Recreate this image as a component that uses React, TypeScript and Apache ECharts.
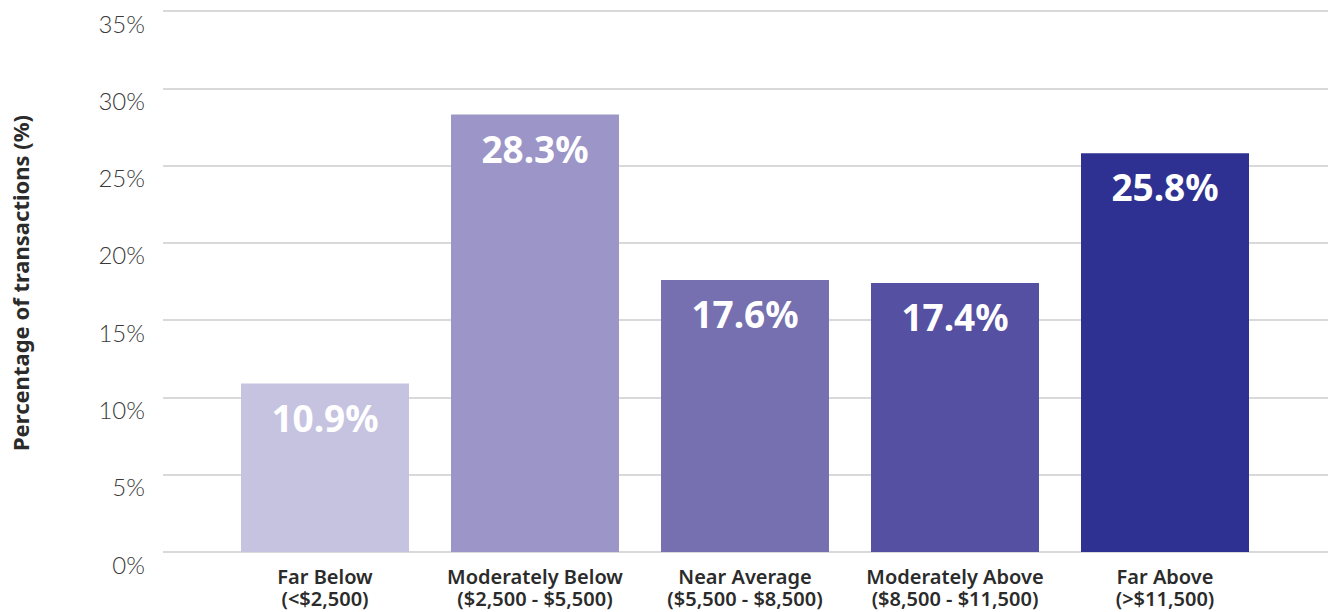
import React, { useEffect, useRef } from "react";
import * as echarts from "echarts";

const categories = [
  "Far Below\n(<$2,500)",
  "Moderately Below\n($2,500 - $5,500)",
  "Near Average\n($5,500 - $8,500)",
  "Moderately Above\n($8,500 - $11,500)",
  "Far Above\n(>$11,500)",
];
const values = [10.9, 28.3, 17.6, 17.4, 25.8];
const barColors = ["#c6c3e1", "#9c95c8", "#7670b0", "#5550a2", "#2e3192"];
const yTicks = { min: 0, max: 35, interval: 5 };
const yAxisTitle = "Percentage of transactions (%)";

export default function App() {
  const ref = useRef<HTMLDivElement>(null);
  useEffect(() => {
    if (!ref.current) return;
    const chart = echarts.init(ref.current, undefined, { renderer: "svg" });
    const font = "'Noto Sans', Lato, sans-serif";
    const tickFont = "Lato, 'Noto Sans', sans-serif";
    chart.setOption({
      animation: false,
      backgroundColor: "#ffffff",
      grid: [
        { left: 163, right: 0, top: 11, bottom: 60 },
        { left: 220, right: 58, top: 11, bottom: 60 },
      ],
      xAxis: [
        { type: "category", gridIndex: 0, data: categories, show: false },
        {
          type: "category",
          gridIndex: 1,
          data: categories,
          axisLine: { show: false },
          axisTick: { show: false },
          axisLabel: {
            color: "#2b2b2b",
            fontFamily: font,
            fontWeight: 600,
            fontSize: 20,
            lineHeight: 22,
            margin: 13,
            interval: 0,
          },
        },
      ],
      yAxis: [
        {
          type: "value",
          gridIndex: 0,
          min: yTicks.min,
          max: yTicks.max,
          interval: yTicks.interval,
          axisLine: { show: false },
          axisTick: { show: false },
          splitLine: { lineStyle: { color: "#cccccc", width: 1.5 } },
          axisLabel: {
            formatter: (v: number) => `${v}%`,
            color: "#3a3a3a",
            fontFamily: tickFont,
            fontWeight: 300,
            fontSize: 24,
            margin: 18,
            verticalAlign: "top",
            padding: [0, 0, 0, 0],
          },
        },
        {
          type: "value",
          gridIndex: 1,
          min: yTicks.min,
          max: yTicks.max,
          interval: yTicks.interval,
          show: false,
          splitLine: { show: false },
        },
      ],
      graphic: [
        {
          type: "text",
          x: 20,
          y: 283,
          rotation: Math.PI / 2,
          style: {
            text: yAxisTitle,
            fill: "#2b2b2b",
            font: `bold 22px ${font}`,
            textAlign: "center",
            textVerticalAlign: "middle",
          },
        },
      ],
      series: [
        {
          type: "bar",
          xAxisIndex: 1,
          yAxisIndex: 1,
          barWidth: 168,
          data: values.map((v, i) => ({ value: v, itemStyle: { color: barColors[i] } })),
          label: {
            show: true,
            position: "insideTop",
            distance: 15,
            formatter: (p: any) => `${p.value}%`,
            color: "#ffffff",
            fontFamily: font,
            fontWeight: "bold",
            fontSize: 37,
          },
        },
      ],
    });
    return () => chart.dispose();
  }, []);
  return (
    <div
      ref={ref}
      style={{ position: "fixed", left: 0, top: 0, width: 1328, height: 612 }}
    />
  );
}
